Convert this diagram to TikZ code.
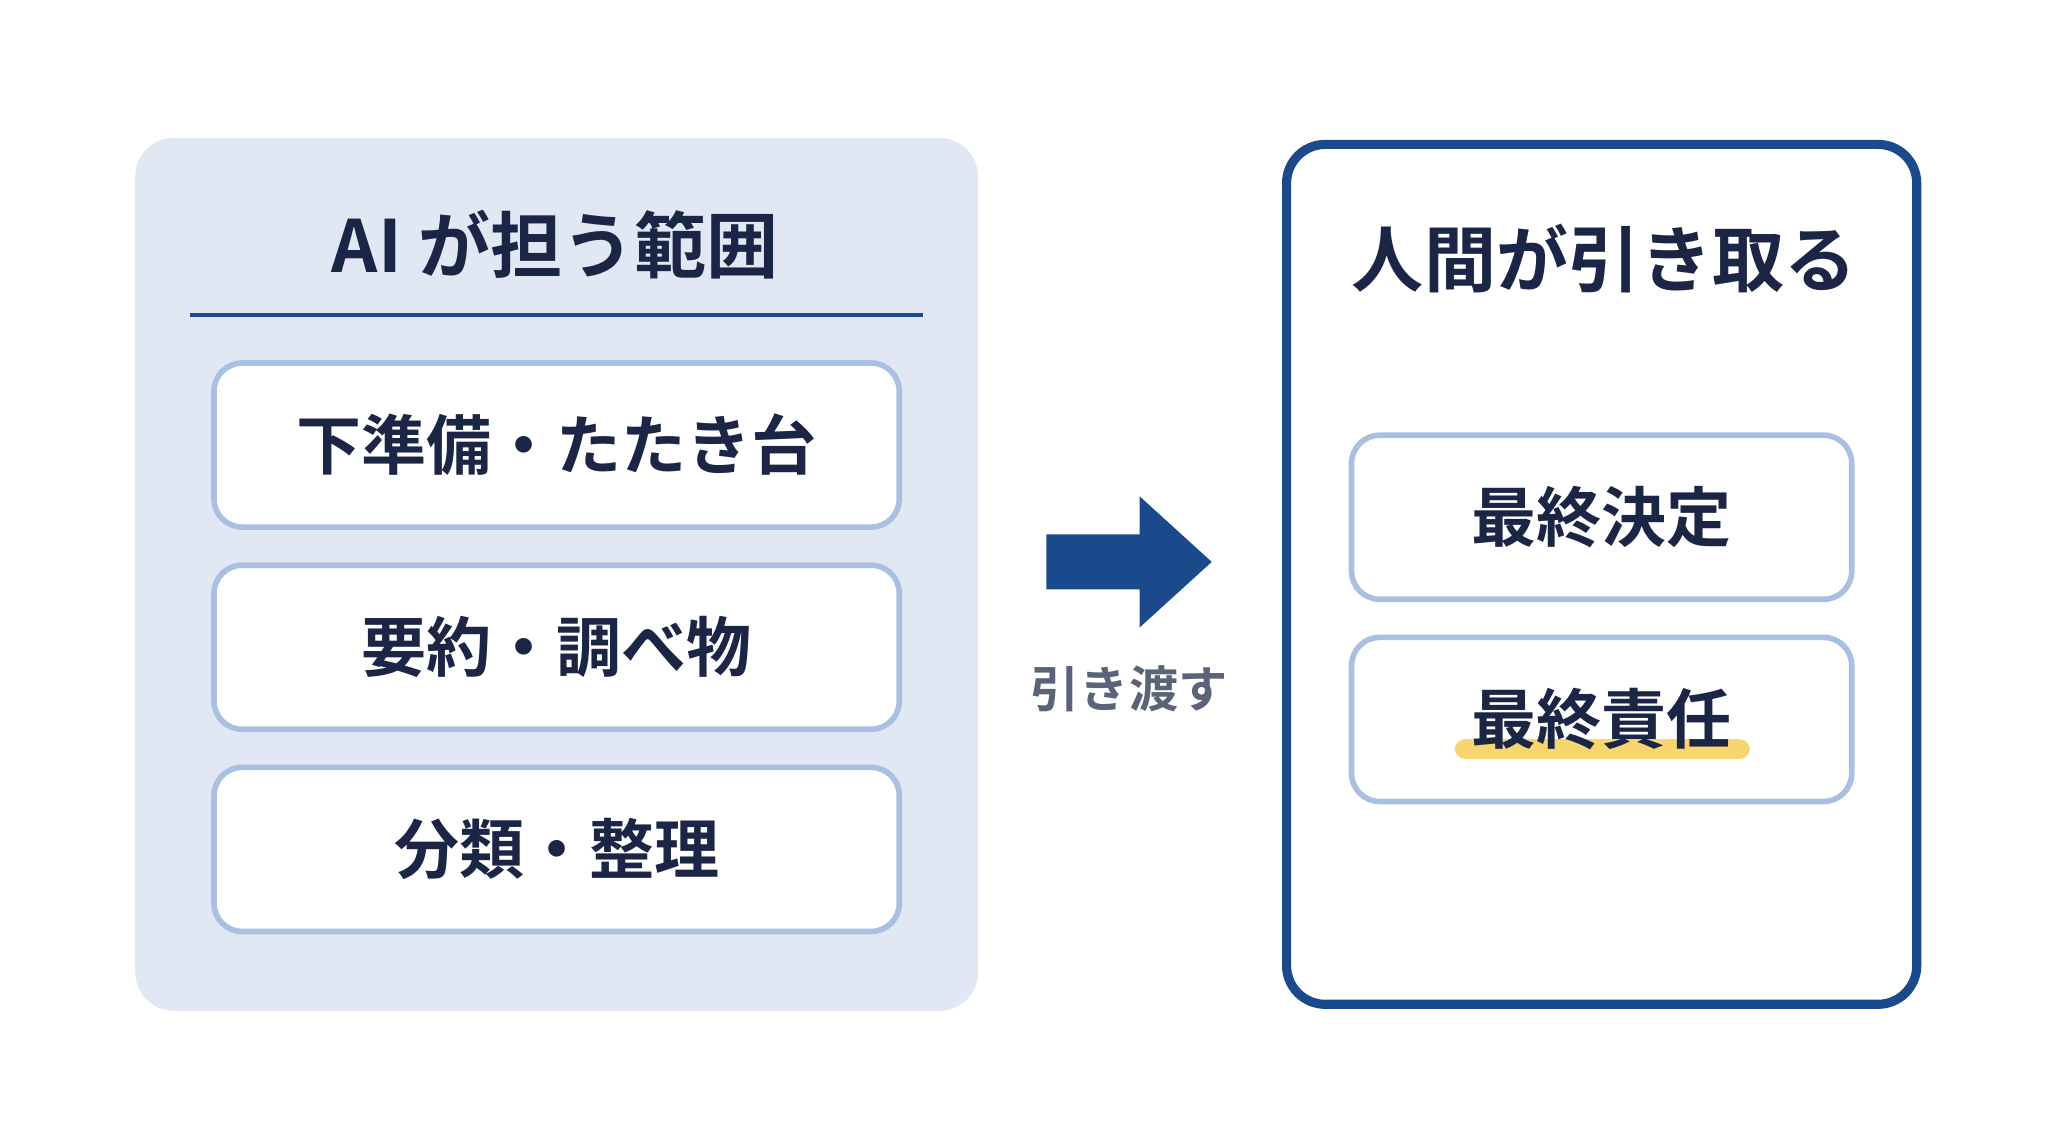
\documentclass[tikz,border=0pt]{standalone}
\usepackage{fontspec}
\setmainfont{Noto Sans CJK JP}[BoldFont={* Bold}]
\usepackage{tikz}
\usetikzlibrary{positioning, arrows.meta, calc}
\definecolor{navytext}{RGB}{27,38,70}
\definecolor{navyline}{RGB}{26,74,140}
\definecolor{panelfill}{RGB}{225,232,244}
\definecolor{boxborder}{RGB}{169,192,226}
\definecolor{handgray}{RGB}{90,100,120}
\definecolor{markyellow}{RGB}{249,213,110}
\tikzset{
  itembox/.style={rectangle, rounded corners=8pt, fill=white, draw=boxborder, line width=1.6pt,
    minimum width=6.85cm, minimum height=1.64cm, font=\fontsize{18.5}{22}\selectfont\bfseries, text=navytext},
  rightbox/.style={itembox, minimum width=5.0cm},
  paneltitle/.style={font=\fontsize{20.5}{24}\selectfont\bfseries, text=navytext}
}

\begin{document}
\begin{tikzpicture}[x=0.013128cm, y=-0.013128cm]
    \useasboundingbox[fill=white] (0,0) rectangle (1560,870.6);

    % === AI 側 ===
    \draw[fill=panelfill, draw=none, rounded corners=11pt] (103,105) rectangle (745,770);
    \node[paneltitle] (aititle) at (423,186) {AI が担う範囲};
    \draw[navyline, line width=1.2pt] (145,240) -- (703,240);
    \node[itembox] (prep) at (424,339) {下準備・たたき台};
    \node[itembox] (summary) at (424,493) {要約・調べ物};
    \node[itembox] (sort) at (424,647) {分類・整理};

    % 矢印
    \fill[navyline] (797,407) -- (868,407) -- (868,378) -- (923,428) -- (868,478)
      -- (868,449) -- (797,449) -- cycle;
    \node[font=\fontsize{14}{16}\selectfont\bfseries, text=handgray] (handlabel) at (860,525) {引き渡す};

    % === 人間側 ===
    \draw[fill=white, draw=navyline, line width=2.6pt, rounded corners=11pt] (980,110) rectangle (1460,765);
    \node[paneltitle] (humantitle) at (1222,197) {人間が引き取る};
    \node[rightbox] (decision) at (1220,394) {最終決定};
    \fill[markyellow, rounded corners=3pt] (1108,563) rectangle (1333,578);
    \node[rightbox, fill=none] (duty) at (1220,548) {最終責任};

\end{tikzpicture}
\end{document}
